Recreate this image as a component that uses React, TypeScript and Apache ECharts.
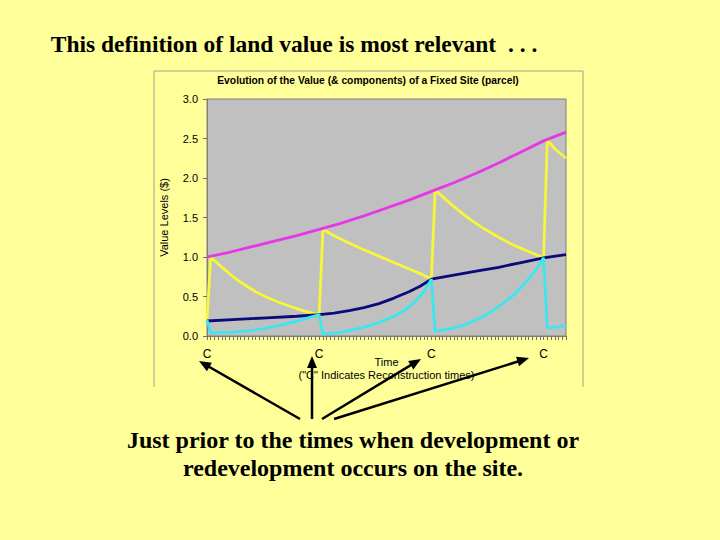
import React, { useEffect, useRef } from "react";
import * as echarts from "echarts";

// Time axis: 3 units per "period step"; reconstruction (C) at 0, 30, 60, 90
const xMin = 0;
const xMax = 96;
const reconstructionTimes = [0, 30, 60, 90];
const yTicks = [0, 0.5, 1.0, 1.5, 2.0, 2.5, 3.0];

// Magenta: value of a new building on the site
const newPropertyValue: [number, number][] = [
  [0, 1.0], [6, 1.06], [12, 1.13], [18, 1.2], [24, 1.27], [30, 1.35],
  [36, 1.43], [42, 1.52], [48, 1.62], [54, 1.72], [60, 1.83], [66, 1.94],
  [72, 2.06], [78, 2.19], [84, 2.33], [90, 2.47], [96, 2.58],
];

// Yellow: property value (sawtooth)
const propertyValue: [number, number][] = [
  [0, 0.2], [1, 1.0], [3, 0.91], [5, 0.83], [7, 0.75], [9, 0.68], [11, 0.62],
  [13, 0.56], [16, 0.49], [19, 0.43], [22, 0.38], [25, 0.33], [28, 0.29],
  [30, 0.27], [31, 1.35], [34, 1.27], [37, 1.2], [41, 1.11], [45, 1.03],
  [49, 0.95], [53, 0.87], [57, 0.79], [60, 0.72], [61, 1.85], [64, 1.72],
  [67, 1.6], [70, 1.49], [74, 1.36], [78, 1.25], [82, 1.15], [86, 1.07],
  [90, 0.99], [91, 2.48], [93, 2.37], [96, 2.25],
];

// Navy: land value
const landValue: [number, number][] = [
  [0, 0.19], [8, 0.21], [16, 0.23], [24, 0.25], [30, 0.27], [34, 0.29],
  [38, 0.32], [42, 0.36], [46, 0.41], [50, 0.48], [54, 0.56], [57, 0.63],
  [60, 0.72], [66, 0.77], [72, 0.82], [78, 0.87], [84, 0.93], [90, 0.99],
  [96, 1.03],
];

// Cyan: redevelopment option value
const optionValue: [number, number][] = [
  [0, 0.2], [1, 0.04], [7, 0.05], [12, 0.07], [16, 0.1], [20, 0.14], [25, 0.2],
  [30, 0.27], [31, 0.02], [36, 0.05], [42, 0.11], [46, 0.17], [50, 0.25],
  [53, 0.33], [56, 0.45], [58, 0.56], [60, 0.72], [61, 0.06], [66, 0.1],
  [70, 0.16], [74, 0.25], [78, 0.37], [82, 0.52], [86, 0.72], [88, 0.84],
  [90, 0.99], [91, 0.1], [96, 0.13],
];

const slideTitle = "This definition of land value is most relevant  . . .";
const chartTitle = "Evolution of the Value (& components) of a Fixed Site (parcel)";
const yAxisName = "Value Levels ($)";
const xAxisName = 'Time\n("C" Indicates Reconstruction times)';
const bottomLines = [
  "Just prior to the times when development or",
  "redevelopment occurs on the site.",
];

// Arrow annotations: [fromX, fromY, toX, toY]
const arrows: [number, number, number, number][] = [
  [300, 419, 199, 361],
  [312, 419, 312, 356],
  [322, 419, 421, 359],
  [334, 419, 529, 358],
];

function arrowGraphics() {
  const els: any[] = [];
  arrows.forEach(([x1, y1, x2, y2]) => {
    const dx = x2 - x1;
    const dy = y2 - y1;
    const len = Math.sqrt(dx * dx + dy * dy);
    const ux = dx / len;
    const uy = dy / len;
    const headLen = 12;
    const headW = 5;
    const bx = x2 - ux * headLen;
    const by = y2 - uy * headLen;
    els.push({
      type: "line",
      shape: { x1, y1, x2: bx + ux * 2, y2: by + uy * 2 },
      style: { stroke: "#000", lineWidth: 2.5 },
    });
    els.push({
      type: "polygon",
      shape: {
        points: [
          [x2, y2],
          [bx - uy * headW, by + ux * headW],
          [bx + uy * headW, by - ux * headW],
        ],
      },
      style: { fill: "#000" },
    });
  });
  return els;
}

const serifShadow = {
  shadowColor: "rgba(0,0,0,0.35)",
  shadowOffsetX: 1,
  shadowOffsetY: 1,
  shadowBlur: 1,
};

export default function App() {
  const ref = useRef<HTMLDivElement>(null);
  useEffect(() => {
    if (!ref.current) return;
    const chart = echarts.init(ref.current, null, { renderer: "svg" });
    const lineSeries = (name: string, data: [number, number][], color: string, z: number) => ({
      name,
      type: "line",
      data,
      showSymbol: false,
      symbol: "none",
      smooth: false,
      z,
      lineStyle: { color, width: 2.8 },
    });
    chart.setOption({
      animation: false,
      backgroundColor: "#FFFF99",
      textStyle: { fontFamily: "Liberation Sans" },
      grid: {
        left: 207,
        top: 99,
        width: 359,
        height: 237,
        show: true,
        backgroundColor: "#C0C0C0",
        borderColor: "#808080",
        borderWidth: 1,
      },
      xAxis: {
        type: "value",
        min: xMin,
        max: xMax,
        interval: 1,
        name: xAxisName,
        nameLocation: "middle",
        nameGap: 19,
        nameMoveOverlap: false,
        nameTextStyle: { fontSize: 11, color: "#000", lineHeight: 13 },
        axisLine: { show: true, lineStyle: { color: "#808080", width: 1 } },
        axisTick: { show: true, length: 4, lineStyle: { color: "#707070" } },
        splitLine: { show: false },
        axisLabel: {
          fontSize: 12,
          color: "#000",
          margin: 12,
          formatter: (v: number) => (reconstructionTimes.includes(v) ? "C" : ""),
        },
      },
      yAxis: {
        type: "value",
        min: yTicks[0],
        max: yTicks[yTicks.length - 1],
        interval: 0.5,
        name: yAxisName,
        nameLocation: "middle",
        nameRotate: 90,
        nameGap: 38,
        nameMoveOverlap: false,
        nameTextStyle: { fontSize: 11, color: "#000" },
        axisLine: { show: true, lineStyle: { color: "#808080", width: 1 } },
        axisTick: { show: true, length: 4, lineStyle: { color: "#707070" } },
        splitLine: { show: false },
        axisLabel: {
          fontSize: 11,
          color: "#000",
          margin: 9,
          formatter: (v: number) => v.toFixed(1),
        },
      },
      series: [
        lineSeries("Property value", propertyValue, "#F6F63A", 2),
        lineSeries("New property value", newPropertyValue, "#E636E6", 3),
        lineSeries("Land value", landValue, "#0A0A7A", 4),
        lineSeries("Option value", optionValue, "#3CE6EE", 5),
      ],
      graphic: [
        {
          type: "polyline",
          shape: { points: [[154, 387], [154, 71], [583, 71], [583, 387]] },
          style: { stroke: "#A4A28A", lineWidth: 1, fill: null },
          silent: true,
        },
        {
          type: "text",
          x: 368,
          y: 80,
          style: {
            text: chartTitle,
            font: "bold 10.3px 'Liberation Sans'",
            fill: "#000",
            align: "center",
            verticalAlign: "middle",
          },
        },
        {
          type: "text",
          x: 294,
          y: 44,
          style: {
            text: slideTitle,
            font: "bold 23.5px 'Liberation Serif'",
            fill: "#000",
            align: "center",
            verticalAlign: "middle",
            ...serifShadow,
          },
        },
        ...bottomLines.map((t, i) => ({
          type: "text",
          x: 353,
          y: 440 + i * 28,
          style: {
            text: t,
            font: "bold 24px 'Liberation Serif'",
            fill: "#000",
            align: "center",
            verticalAlign: "middle",
            ...serifShadow,
          },
        })),
        ...arrowGraphics(),
      ],
    });
    return () => chart.dispose();
  }, []);
  return (
    <div
      ref={ref}
      style={{ position: "fixed", left: 0, top: 0, width: 720, height: 540 }}
    />
  );
}
